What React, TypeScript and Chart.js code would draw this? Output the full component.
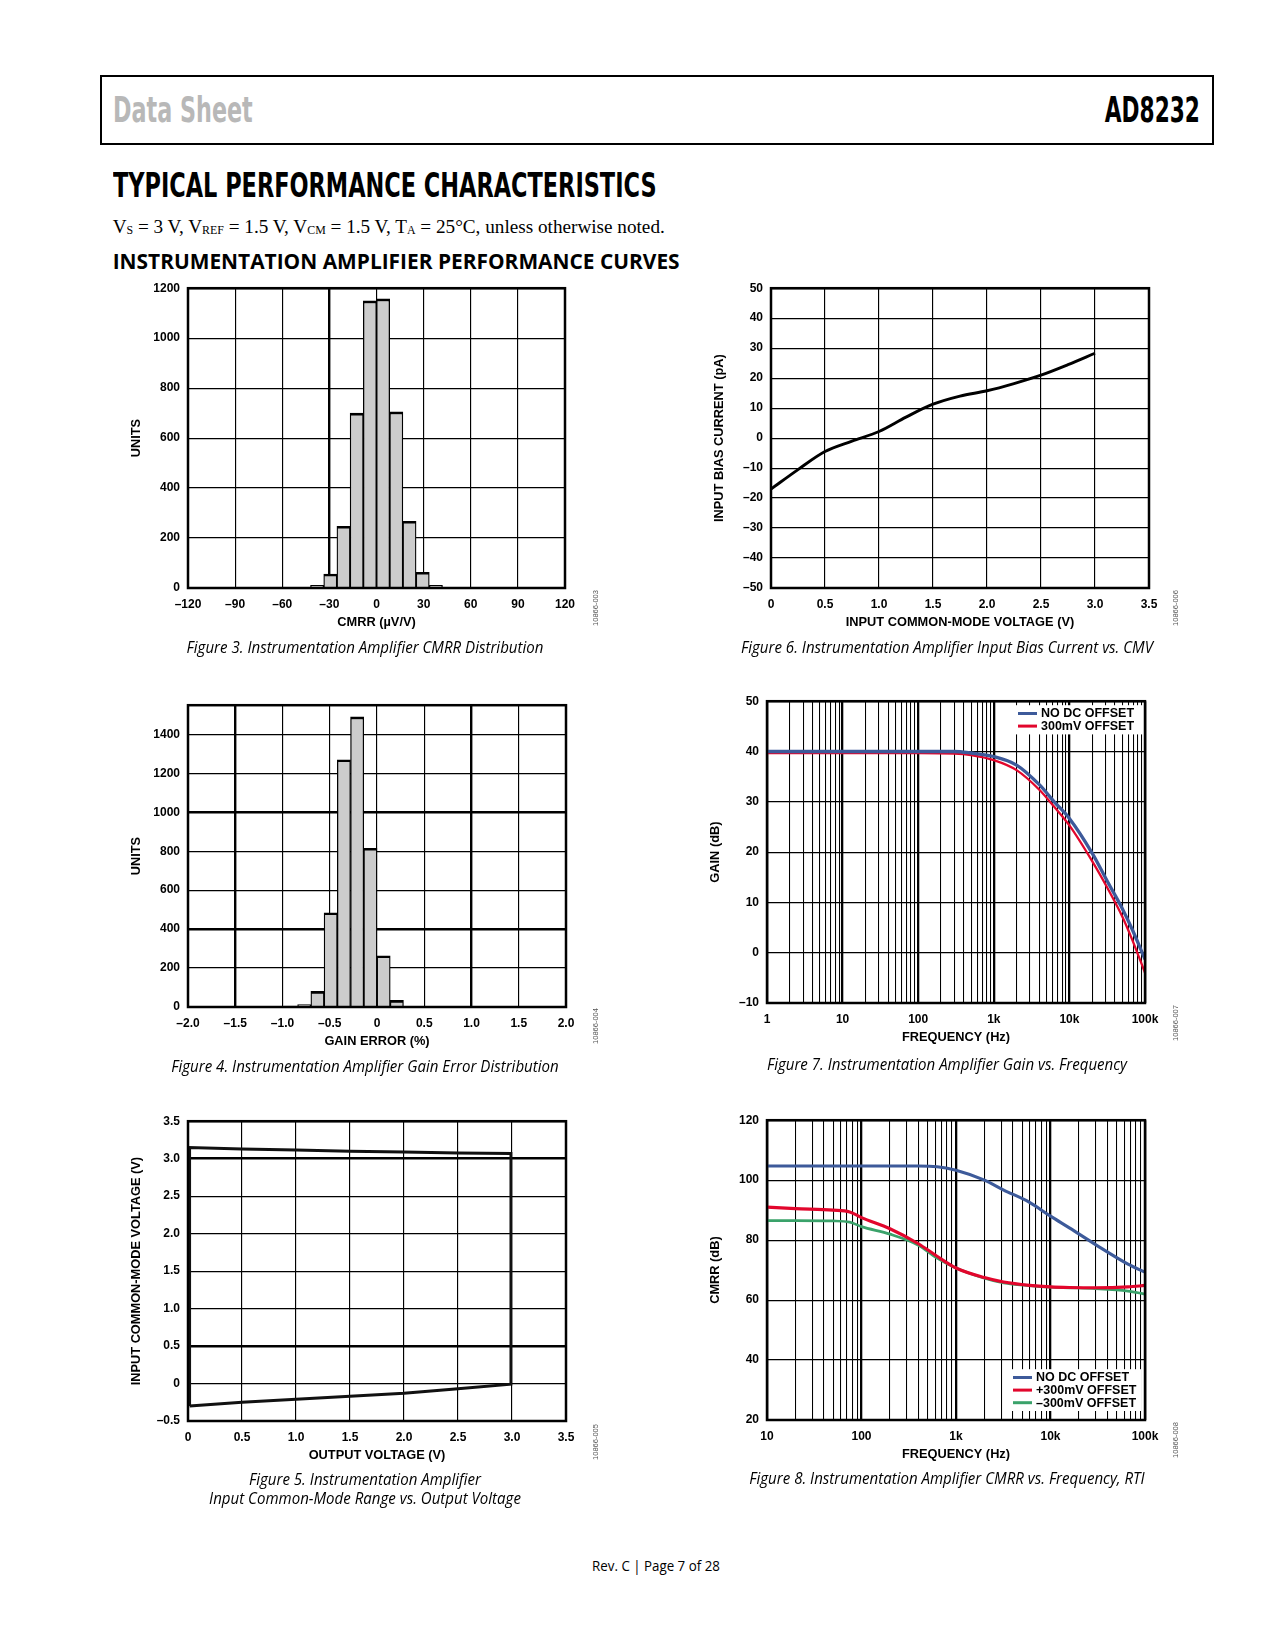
import React, { useEffect, useRef } from 'react';
import { Chart, registerables } from 'chart.js';

Chart.register(...registerables);

// ---------------- Figure 3: CMRR distribution ----------------
const fig3BinCenters = [-37.8, -29.4, -21.0, -12.6, -4.2, 4.2, 12.6, 21.0, 29.4, 37.8];
const fig3Units = [11, 56, 247, 700, 1149, 1157, 705, 267, 63, 11];
const fig3XTicks = [-120, -90, -60, -30, 0, 30, 60, 90, 120];
const fig3XLabels = ['–120', '–90', '–60', '–30', '0', '30', '60', '90', '120'];
const fig3YTicks = [0, 200, 400, 600, 800, 1000, 1200];
const fig3YLabels = ['0', '200', '400', '600', '800', '1000', '1200'];

// ---------------- Figure 4: Gain error distribution ----------------
const fig4BinCenters = [-0.91, -0.77, -0.63, -0.49, -0.35, -0.21, -0.07, 0.07, 0.21];
const fig4Units = [5, 12, 80, 484, 1270, 1490, 815, 263, 34];
const fig4XTicks = [-2, -1.5, -1, -0.5, 0, 0.5, 1, 1.5, 2];
const fig4XLabels = ['–2.0', '–1.5', '–1.0', '–0.5', '0', '0.5', '1.0', '1.5', '2.0'];
const fig4YTicks = [0, 200, 400, 600, 800, 1000, 1200, 1400];
const fig4YLabels = ['0', '200', '400', '600', '800', '1000', '1200', '1400'];

// ---------------- Figure 5: Input common-mode range vs output voltage ----------------
const fig5OutputV = [0.015, 0.5, 1.0, 1.5, 2.0, 2.5, 2.99, 2.99, 2.5, 2.0, 1.5, 1.0, 0.5, 0.015, 0.015];
const fig5InputCmV = [-0.30, -0.25, -0.21, -0.17, -0.13, -0.07, -0.01, 3.07, 3.075, 3.09, 3.10, 3.115, 3.13, 3.15, -0.30];
const fig5XTicks = [0, 0.5, 1, 1.5, 2, 2.5, 3, 3.5];
const fig5XLabels = ['0', '0.5', '1.0', '1.5', '2.0', '2.5', '3.0', '3.5'];
const fig5YTicks = [-0.5, 0, 0.5, 1, 1.5, 2, 2.5, 3, 3.5];
const fig5YLabels = ['–0.5', '0', '0.5', '1.0', '1.5', '2.0', '2.5', '3.0', '3.5'];

// ---------------- Figure 6: Input bias current vs CMV ----------------
const fig6Vcm = [0, 0.25, 0.5, 0.75, 1.0, 1.25, 1.5, 1.75, 2.0, 2.25, 2.5, 2.75, 3.0];
const fig6BiasPa = [-17, -10.5, -4.5, -1.0, 2.2, 7.0, 11.3, 14.0, 15.8, 18.2, 21.0, 24.5, 28.3];
const fig6XTicks = [0, 0.5, 1, 1.5, 2, 2.5, 3, 3.5];
const fig6XLabels = ['0', '0.5', '1.0', '1.5', '2.0', '2.5', '3.0', '3.5'];
const fig6YTicks = [-50, -40, -30, -20, -10, 0, 10, 20, 30, 40, 50];
const fig6YLabels = ['–50', '–40', '–30', '–20', '–10', '0', '10', '20', '30', '40', '50'];

// ---------------- Figure 7: Gain vs frequency ----------------
const fig7Freq = [1, 10, 100, 300, 500, 1000, 2000, 4000, 6300, 10000, 20000, 32000, 50000, 66000, 100000];
const fig7GainNoOffset = [40, 40, 40, 40, 39.7, 39.0, 37.3, 33.4, 30.0, 26.7, 19.8, 14.1, 8.8, 5.0, -1.3];
const fig7Gain300mV = [39.7, 39.7, 39.7, 39.6, 39.3, 38.3, 36.3, 32.4, 29.0, 25.3, 18.2, 12.8, 7.2, 3.0, -4.0];
const fig7Labels = ['NO DC OFFSET', '300mV OFFSET'];
const fig7XTicks = [1, 10, 100, 1000, 10000, 100000];
const fig7XLabels = ['1', '10', '100', '1k', '10k', '100k'];
const fig7YTicks = [-10, 0, 10, 20, 30, 40, 50];
const fig7YLabels = ['–10', '0', '10', '20', '30', '40', '50'];

// ---------------- Figure 8: CMRR vs frequency ----------------
const fig8Freq = [10, 20, 50, 75, 100, 200, 400, 630, 1000, 2000, 3200, 6000, 10000, 16000, 30000, 66000, 100000];
const fig8CmrrNoOffset = [104.7, 104.7, 104.7, 104.7, 104.7, 104.7, 104.7, 104.5, 103.3, 100.0, 96.7, 92.6, 88.0, 84.0, 78.5, 72.0, 69.3];
const fig8CmrrPlus300 = [91.0, 90.5, 90.0, 89.4, 87.5, 83.8, 78.8, 74.6, 70.7, 67.5, 66.0, 64.9, 64.4, 64.2, 64.1, 64.4, 64.9];
const fig8CmrrMinus300 = [86.5, 86.5, 86.4, 86.0, 84.5, 82.0, 78.3, 74.0, 70.7, 67.3, 65.7, 64.8, 64.3, 64.1, 63.8, 63.0, 62.0];
const fig8Labels = ['NO DC OFFSET', '+300mV OFFSET', '–300mV OFFSET'];
const fig8XTicks = [10, 100, 1000, 10000, 100000];
const fig8XLabels = ['10', '100', '1k', '10k', '100k'];
const fig8YTicks = [20, 40, 60, 80, 100, 120];
const fig8YLabels = ['20', '40', '60', '80', '100', '120'];

// ---------------- styling helpers ----------------
const K = 1.0526; // layout grid scale
const CHART_FONT = '"Liberation Sans", Arial, Helvetica, sans-serif';
const BLUE = '#3d5a9a';
const RED = '#e2062c';
const GREEN = '#3aa26a';
const Y_AXIS_W = 63;
const X_AXIS_H = 46;
const PAD_TOP = 14;
const PAD_RIGHT = 28;

Chart.defaults.font.family = CHART_FONT;

const tickFont = { size: 12, weight: 'bold' as const };
const titleFont = { size: 12.8, weight: 'bold' as const };

function linAxis(axis: 'x' | 'y', min: number, max: number, ticks: number[], labels: string[], title: string, bold: number[] = []) {
  return {
    type: 'linear',
    min,
    max,
    offset: false,
    afterBuildTicks: (s: any) => {
      s.ticks = ticks.map((v) => ({ value: v }));
    },
    afterFit: (s: any) => {
      if (axis === 'y') s.width = Y_AXIS_W;
      else s.height = X_AXIS_H;
    },
    ticks: {
      autoSkip: false,
      maxRotation: 0,
      minRotation: 0,
      padding: axis === 'y' ? 8 : 9,
      color: '#000',
      font: tickFont,
      callback: (v: any) => {
        const i = ticks.indexOf(Number(v));
        return i >= 0 ? labels[i] : '';
      },
    },
    grid: {
      color: '#000',
      offset: false,
      drawTicks: false,
      lineWidth: (c: any) => (c.tick && bold.includes(c.tick.value) ? 2.4 : 1.15),
    },
    border: { display: false },
    title: { display: true, text: title, color: '#000', font: titleFont, padding: { top: 4, bottom: 4 } },
  };
}

function logAxis(min: number, max: number, decades: number[], labels: string[], title: string) {
  const all: number[] = [];
  for (let d = min; d < max; d *= 10) for (let k = 1; k < 10; k++) all.push(d * k);
  all.push(max);
  return {
    type: 'logarithmic',
    min,
    max,
    afterBuildTicks: (s: any) => {
      s.ticks = all.map((v) => ({ value: v, major: decades.includes(v) }));
    },
    afterFit: (s: any) => {
      s.height = X_AXIS_H;
    },
    ticks: {
      autoSkip: false,
      maxRotation: 0,
      minRotation: 0,
      padding: 9,
      color: '#000',
      font: tickFont,
      callback: (v: any) => {
        const i = decades.indexOf(Number(v));
        return i >= 0 ? labels[i] : '';
      },
    },
    grid: {
      color: '#000',
      drawTicks: false,
      lineWidth: (c: any) => (c.tick && decades.includes(c.tick.value) ? 2.3 : 1.05),
    },
    border: { display: false },
    title: { display: true, text: title, color: '#000', font: titleFont, padding: { top: 4, bottom: 4 } },
  };
}

const framePlugin = {
  id: 'frame',
  afterDatasetsDraw(chart: any) {
    const { ctx, chartArea: a } = chart;
    ctx.save();
    ctx.strokeStyle = '#000';
    ctx.lineWidth = 2.5;
    ctx.strokeRect(a.left, a.top, a.right - a.left, a.bottom - a.top);
    ctx.restore();
  },
};

function boxLegend(pos: 'top' | 'bottom', rightGap: number) {
  return {
    id: 'boxLegend',
    afterDraw(chart: any) {
      const { ctx, chartArea: a } = chart;
      const ds = chart.data.datasets;
      const rowH = 12.6;
      const w = 132;
      const h = ds.length * rowH + 4;
      const x = a.right - w - rightGap;
      const y = pos === 'top' ? a.top + 4 : a.bottom - h - 9;
      ctx.save();
      ctx.fillStyle = '#fff';
      ctx.fillRect(x, y, Math.min(w, a.right - 2 - x), h);
      ctx.font = 'bold 12.5px ' + CHART_FONT;
      ctx.textBaseline = 'middle';
      ds.forEach((d: any, i: number) => {
        const cy = y + 2 + rowH * i + rowH / 2;
        ctx.strokeStyle = d.borderColor;
        ctx.lineWidth = 3;
        ctx.beginPath();
        ctx.moveTo(x + 4, cy);
        ctx.lineTo(x + 23, cy);
        ctx.stroke();
        ctx.fillStyle = '#000';
        ctx.fillText(d.label, x + 27, cy + 0.5);
      });
      ctx.restore();
    },
  };
}

const baseOptions = (scales: any) => ({
  animation: false,
  responsive: false,
  maintainAspectRatio: false,
  events: [],
  layout: { padding: { left: 0, top: PAD_TOP, right: PAD_RIGHT, bottom: 0 } },
  plugins: { legend: { display: false }, tooltip: { enabled: false } },
  scales,
});

function histConfig(centers: number[], units: number[], xAxis: any, yAxis: any) {
  return {
    type: 'bar',
    data: {
      datasets: [
        {
          data: centers.map((c, i) => ({ x: c, y: units[i] })),
          backgroundColor: '#cccccc',
          borderColor: '#000',
          borderWidth: { top: 2.6, left: 1.3, right: 1.3, bottom: 0 },
          borderSkipped: false,
          barPercentage: 1,
          categoryPercentage: 1,
        },
      ],
    },
    options: baseOptions({ x: xAxis, y: yAxis }),
    plugins: [framePlugin],
  };
}

function lineDs(xs: number[], ys: number[], color: string, width: number, label = '', smooth = true) {
  return {
    label,
    data: xs.map((x, i) => ({ x, y: ys[i] })),
    borderColor: color,
    backgroundColor: color,
    borderWidth: width,
    pointRadius: 0,
    fill: false,
    tension: 0,
    cubicInterpolationMode: smooth ? 'monotone' : 'default',
  };
}

type Box = { L: number; T: number; R: number; B: number };
const box = (L: number, T: number, R: number, B: number): Box => ({ L: L * K, T: T * K, R: R * K, B: B * K });

function ChartBox({ b, make }: { b: Box; make: () => any }) {
  const ref = useRef<HTMLCanvasElement>(null);
  const width = Math.round(b.R - b.L + Y_AXIS_W + PAD_RIGHT);
  const height = Math.round(b.B - b.T + PAD_TOP + X_AXIS_H);
  useEffect(() => {
    const chart = new Chart(ref.current as HTMLCanvasElement, make());
    return () => chart.destroy();
  }, []);
  return (
    <div style={{ position: 'absolute', left: Math.round(b.L - Y_AXIS_W), top: Math.round(b.T - PAD_TOP), width, height }}>
      <canvas ref={ref} width={width} height={height} style={{ width, height, display: 'block' }} />
    </div>
  );
}

const fig3Box = box(179, 273, 537, 559);
const fig4Box = box(179, 669, 538, 957);
const fig5Box = box(179, 1064, 538, 1350);
const fig6Box = box(732, 273, 1091, 559);
const fig7Box = box(729, 665, 1088, 953);
const fig8Box = box(729, 1063, 1088, 1349);

const makeFig3 = () =>
  histConfig(
    fig3BinCenters,
    fig3Units,
    linAxis('x', -120, 120, fig3XTicks, fig3XLabels, 'CMRR (µV/V)', [-30]),
    linAxis('y', 0, 1200, fig3YTicks, fig3YLabels, 'UNITS')
  );

const makeFig4 = () =>
  histConfig(
    fig4BinCenters,
    fig4Units,
    linAxis('x', -2, 2, fig4XTicks, fig4XLabels, 'GAIN ERROR (%)', [-1.5, 1]),
    linAxis('y', 0, 1550, fig4YTicks, fig4YLabels, 'UNITS', [400, 1000])
  );

const makeFig5 = () => ({
  type: 'line',
  data: { datasets: [lineDs(fig5OutputV, fig5InputCmV, '#111', 2.9, '', false)] },
  options: baseOptions({
    x: linAxis('x', 0, 3.5, fig5XTicks, fig5XLabels, 'OUTPUT VOLTAGE (V)'),
    y: linAxis('y', -0.5, 3.5, fig5YTicks, fig5YLabels, 'INPUT COMMON-MODE VOLTAGE (V)', [3, 0.5]),
  }),
  plugins: [framePlugin],
});

const makeFig6 = () => ({
  type: 'line',
  data: { datasets: [lineDs(fig6Vcm, fig6BiasPa, '#000', 2.9)] },
  options: baseOptions({
    x: linAxis('x', 0, 3.5, fig6XTicks, fig6XLabels, 'INPUT COMMON-MODE VOLTAGE (V)'),
    y: linAxis('y', -50, 50, fig6YTicks, fig6YLabels, 'INPUT BIAS CURRENT (pA)'),
  }),
  plugins: [framePlugin],
});

const makeFig7 = () => ({
  type: 'line',
  data: {
    datasets: [
      lineDs(fig7Freq, fig7GainNoOffset, BLUE, 3.3, fig7Labels[0]),
      lineDs(fig7Freq, fig7Gain300mV, RED, 2.3, fig7Labels[1]),
    ],
  },
  options: baseOptions({
    x: logAxis(1, 100000, fig7XTicks, fig7XLabels, 'FREQUENCY (Hz)'),
    y: linAxis('y', -10, 50, fig7YTicks, fig7YLabels, 'GAIN (dB)'),
  }),
  plugins: [framePlugin, boxLegend('top', -1)],
});

const makeFig8 = () => ({
  type: 'line',
  data: {
    datasets: [
      lineDs(fig8Freq, fig8CmrrNoOffset, BLUE, 3.1, fig8Labels[0]),
      lineDs(fig8Freq, fig8CmrrPlus300, RED, 3.1, fig8Labels[1]),
      lineDs(fig8Freq, fig8CmrrMinus300, GREEN, 2.7, fig8Labels[2]),
    ],
  },
  options: baseOptions({
    x: logAxis(10, 100000, fig8XTicks, fig8XLabels, 'FREQUENCY (Hz)'),
    y: linAxis('y', 20, 120, fig8YTicks, fig8YLabels, 'CMRR (dB)'),
  }),
  plugins: [framePlugin, boxLegend('bottom', 4)],
});

// ---------------- page text ----------------
type TProps = {
  x: number;
  y: number;
  size: number;
  family: string;
  weight?: number;
  italic?: boolean;
  color?: string;
  align?: 'left' | 'center' | 'right';
  sx?: number;
  children: React.ReactNode;
};

function T({ x, y, size, family, weight = 400, italic = false, color = '#000', align = 'left', sx = 1, children }: TProps) {
  const L = Math.round(size * 1.4);
  const X = x * K;
  const Y = y * K;
  const common: React.CSSProperties = {
    position: 'absolute',
    top: Y - L / 2,
    lineHeight: L + 'px',
    fontSize: size,
    fontFamily: family,
    fontWeight: weight,
    fontStyle: italic ? 'italic' : 'normal',
    color,
    whiteSpace: 'nowrap',
    transform: `scaleX(${sx})`,
  };
  if (align === 'left') return <div style={{ ...common, left: X, transformOrigin: 'left center' }}>{children}</div>;
  if (align === 'right') return <div style={{ ...common, right: 1275 - X, transformOrigin: 'right center' }}>{children}</div>;
  return <div style={{ ...common, left: X - 500, width: 1000, textAlign: 'center', transformOrigin: 'center center' }}>{children}</div>;
}

const NARROW = '"Liberation Sans Narrow", "Arial Narrow", "DejaVu Sans Condensed", "Liberation Sans", sans-serif';
const SERIF = '"Liberation Serif", "Times New Roman", serif';
const HUMAN = '"Open Sans", "Noto Sans", sans-serif';

function Code({ x, y, text }: { x: number; y: number; text: string }) {
  return (
    <div
      style={{
        position: 'absolute',
        left: x * K - 40,
        top: y * K - 5,
        width: 80,
        lineHeight: '10px',
        textAlign: 'center',
        fontSize: 7.5,
        fontFamily: CHART_FONT,
        color: '#555',
        transform: 'rotate(-90deg)',
      }}
    >
      {text}
    </div>
  );
}

function Caption({ x, y, children }: { x: number; y: number; children: React.ReactNode }) {
  return (
    <T x={x} y={y} size={16.2} family={HUMAN} italic align="center" sx={0.93}>
      {children}
    </T>
  );
}

const sub: React.CSSProperties = { fontSize: '0.62em', verticalAlign: '-0.05em' };

export default function App() {
  return (
    <div style={{ position: 'absolute', left: 0, top: 0, width: 1275, height: 1650, background: '#fff', overflow: 'hidden' }}>
      {/* header box */}
      <div
        style={{
          position: 'absolute',
          left: 95 * K,
          top: 71 * K,
          width: (1153 - 95) * K,
          height: (138 - 71) * K,
          border: '2px solid #000',
          boxSizing: 'border-box',
        }}
      />
      <T x={107} y={105} size={34.7} family={NARROW} weight={700} color="#b8b8b8" sx={0.714}>
        Data Sheet
      </T>
      <T x={1140} y={105} size={34.7} family={NARROW} weight={700} align="right" sx={0.695}>
        AD8232
      </T>

      <T x={107} y={176} size={34} family={NARROW} weight={700} sx={0.733}>
        TYPICAL PERFORMANCE CHARACTERISTICS
      </T>
      <T x={107} y={215} size={19.2} family={SERIF}>
        <span>
          V<span style={sub}>S</span> = 3 V, V<span style={sub}>REF</span> = 1.5 V, V<span style={sub}>CM</span> = 1.5 V, T
          <span style={sub}>A</span> = 25°C, unless otherwise noted.
        </span>
      </T>
      <T x={107} y={248} size={20.9} family={HUMAN} weight={700}>
        INSTRUMENTATION AMPLIFIER PERFORMANCE CURVES
      </T>

      <ChartBox b={fig3Box} make={makeFig3} />
      <ChartBox b={fig6Box} make={makeFig6} />
      <ChartBox b={fig4Box} make={makeFig4} />
      <ChartBox b={fig7Box} make={makeFig7} />
      <ChartBox b={fig5Box} make={makeFig5} />
      <ChartBox b={fig8Box} make={makeFig8} />

      <Code x={566} y={578} text="10866-003" />
      <Code x={1117} y={578} text="10866-006" />
      <Code x={566} y={975} text="10866-004" />
      <Code x={1117} y={972} text="10866-007" />
      <Code x={566} y={1370} text="10866-005" />
      <Code x={1117} y={1368} text="10866-008" />

      <Caption x={347} y={615}>Figure 3. Instrumentation Amplifier CMRR Distribution</Caption>
      <Caption x={900} y={615}>Figure 6. Instrumentation Amplifier Input Bias Current vs. CMV</Caption>
      <Caption x={347} y={1013}>Figure 4. Instrumentation Amplifier Gain Error Distribution</Caption>
      <Caption x={900} y={1011}>Figure 7. Instrumentation Amplifier Gain vs. Frequency</Caption>
      <Caption x={347} y={1406}>Figure 5. Instrumentation Amplifier</Caption>
      <Caption x={347} y={1424}>Input Common-Mode Range vs. Output Voltage</Caption>
      <Caption x={900} y={1405}>Figure 8. Instrumentation Amplifier CMRR vs. Frequency, RTI</Caption>

      <T x={623} y={1487} size={14.8} family={HUMAN} align="center" sx={0.9}>
        Rev. C | Page 7 of 28
      </T>
    </div>
  );
}
